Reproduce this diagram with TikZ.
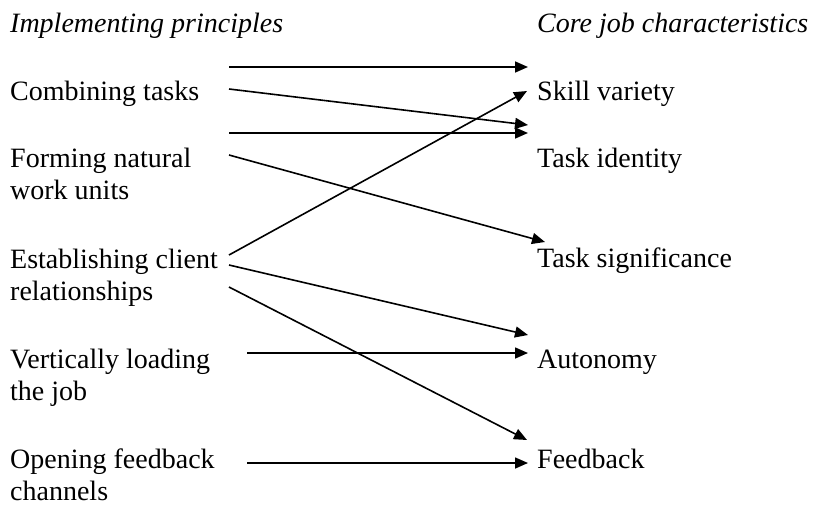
\documentclass[tikz,border=0pt]{standalone}
\usepackage{fontspec}
\setmainfont{Liberation Serif}
\usetikzlibrary{arrows.meta}
\begin{document}
\begin{tikzpicture}[x=1pt,y=-1pt,
  lbl/.style={anchor=base west,inner sep=0pt,align=left,font=\fontsize{28}{32}\selectfont},
  hdr/.style={lbl,font=\fontsize{28}{32}\selectfont\itshape},
  conn/.style={line width=1.6pt,-{Triangle[length=13pt,width=11pt]}}]
\useasboundingbox (0,0) rectangle (822,504);
% headers
\node[hdr] (hl) at (10,32) {Implementing principles};
\node[hdr] (hr) at (537,32) {Core job characteristics};
% left column (multi-line nodes are placed at the baseline of their last line)
\node[lbl] (combining) at (10,100) {Combining tasks};
\node[lbl] (forming) at (10,199) {Forming natural\\work units};
\node[lbl] (establishing) at (10,300) {Establishing client\\relationships};
\node[lbl] (vertically) at (10,400) {Vertically loading\\the job};
\node[lbl] (opening) at (10,500) {Opening feedback\\channels};
% right column
\node[lbl] (skill) at (537,100) {Skill variety};
\node[lbl] (identity) at (537,167) {Task identity};
\node[lbl] (significance) at (537,267) {Task significance};
\node[lbl] (autonomy) at (537,368) {Autonomy};
\node[lbl] (feedback) at (537,468) {Feedback};
% connector endpoints
\coordinate (c1s) at (229,67);   \coordinate (c1e) at (528,67);
\coordinate (c2s) at (229,89);   \coordinate (c2e) at (528,125);
\coordinate (c3s) at (229,133);  \coordinate (c3e) at (528,133);
\coordinate (c4s) at (229,155);  \coordinate (c4e) at (545,242);
\coordinate (c5s) at (229,255);  \coordinate (c5e) at (527,91);
\coordinate (c6s) at (229,265);  \coordinate (c6e) at (528,335);
\coordinate (c7s) at (229,287);  \coordinate (c7e) at (527,440);
\coordinate (c8s) at (247,353);  \coordinate (c8e) at (528,353);
\coordinate (c9s) at (247,463);  \coordinate (c9e) at (528,463);
\foreach \i in {1,...,9} \draw[conn] (c\i s) -- (c\i e);
\end{tikzpicture}
\end{document}
